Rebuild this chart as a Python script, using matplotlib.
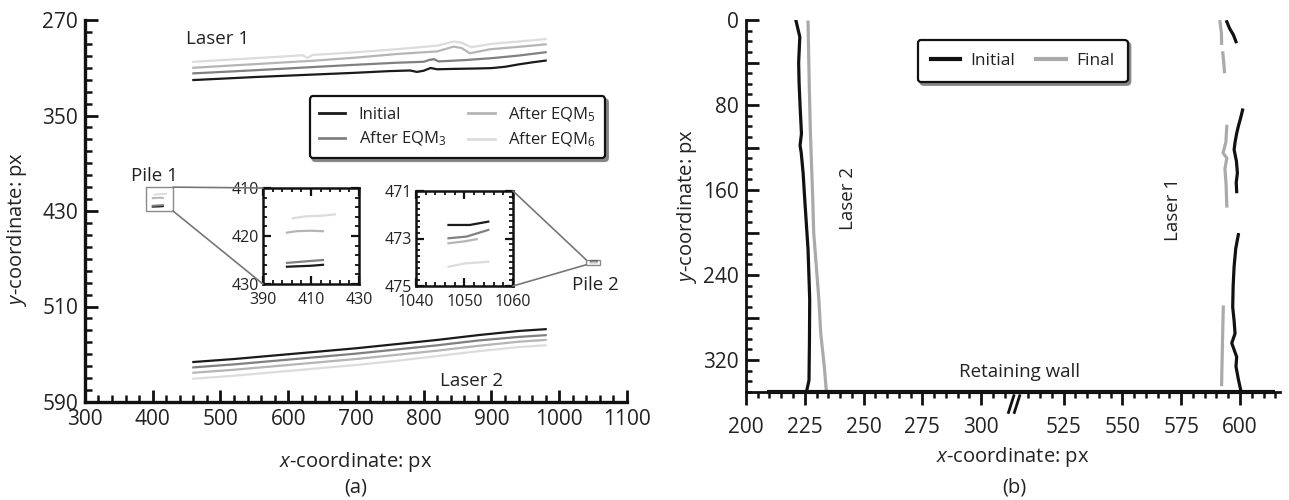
import numpy as np
import matplotlib
matplotlib.use("Agg")
import matplotlib.pyplot as plt
from matplotlib.patches import Rectangle, ConnectionPatch
from matplotlib.lines import Line2D

plt.rcParams['font.family'] = ['Open Sans', 'DejaVu Sans']
plt.rcParams['mathtext.fontset'] = 'custom'
plt.rcParams['mathtext.rm'] = 'Open Sans'
plt.rcParams['mathtext.it'] = 'Open Sans:italic'

# ---------------- data: panel (a) ----------------
series_a = ['Initial', 'After EQM$_3$', 'After EQM$_5$', 'After EQM$_6$']
colors_a = ['#1a1a1a', '#808080', '#b5b5b5', '#dcdcdc']

laser1_init_x = [460, 500, 550, 600, 650, 700, 750, 780, 790, 800, 810, 820, 840, 860, 880, 900, 920, 940, 960, 980]
laser1_init_y = [320.3, 319.2, 317.8, 316.6, 315.4, 314.2, 312.8, 312.3, 313.5, 312.5, 310.2, 311.3, 311.0, 310.8, 310.6, 310.3, 309.2, 307.2, 305.5, 304.0]
laser1_eqm3_x = [460, 520, 580, 640, 700, 760, 800, 808, 815, 822, 860, 900, 940, 980]
laser1_eqm3_y = [314.7, 313.0, 311.2, 309.3, 307.5, 305.8, 305.0, 303.5, 302.8, 304.7, 303.6, 302.0, 299.8, 297.0]
laser1_eqm5_x = [460, 520, 580, 640, 700, 760, 820, 844, 856, 868, 898, 940, 980]
laser1_eqm5_y = [310.0, 308.0, 306.0, 304.0, 301.5, 298.5, 296.3, 292.3, 293.5, 297.9, 294.5, 292.5, 290.4]
laser1_eqm6_x = [460, 520, 580, 622, 628, 636, 700, 760, 820, 844, 856, 870, 900, 940, 980]
laser1_eqm6_y = [305.0, 303.0, 301.0, 299.5, 301.8, 299.3, 297.0, 294.5, 291.5, 288.0, 289.0, 292.8, 290.0, 288.0, 286.0]

laser2_x = [460, 520, 580, 640, 700, 760, 820, 880, 940, 980]
laser2_init_y = [556.5, 554.0, 551.0, 548.0, 545.0, 541.5, 538.0, 534.0, 530.5, 529.0]
laser2_eqm3_y = [561.0, 558.5, 555.5, 552.5, 549.5, 546.0, 542.5, 538.5, 535.5, 534.0]
laser2_eqm5_y = [565.5, 563.0, 560.0, 557.0, 554.0, 550.5, 547.0, 543.0, 539.5, 538.0]
laser2_eqm6_y = [570.5, 568.0, 565.0, 562.0, 559.0, 555.5, 551.5, 547.5, 544.0, 542.5]

pile1_init_x = [400, 405, 410, 415]
pile1_init_y = [426.4, 426.3, 426.2, 426.0]
pile1_eqm3_x = [400, 405, 410, 415]
pile1_eqm3_y = [425.6, 425.4, 425.2, 425.0]
pile1_eqm5_x = [400, 404, 410, 415]
pile1_eqm5_y = [419.3, 419.0, 418.9, 419.0]
pile1_eqm6_x = [402.5, 408, 414, 420]
pile1_eqm6_y = [416.3, 415.9, 415.8, 415.5]

pile2_init_x = [1046.7, 1051.1, 1054.9]
pile2_init_y = [472.43, 472.43, 472.29]
pile2_eqm3_x = [1046.7, 1050.4, 1054.9]
pile2_eqm3_y = [472.99, 472.92, 472.64]
pile2_eqm5_x = [1046.7, 1050.0, 1052.5]
pile2_eqm5_y = [473.20, 473.12, 473.03]
pile2_eqm6_x = [1046.7, 1050.0, 1054.9]
pile2_eqm6_y = [474.19, 474.05, 473.98]

pile1_box = (390, 430, 410, 430)   # x0, x1, y0, y1
pile2_box = (1040, 1060, 471, 475)

xticks_a = [300, 400, 500, 600, 700, 800, 900, 1000, 1100]
yticks_a = [270, 350, 430, 510, 590]

# ---------------- data: panel (b) ----------------
series_b = ['Initial', 'Final']
colors_b = ['#111111', '#aaaaaa']

l2_init_y = [0, 16, 40, 60, 85, 107, 118, 125, 144, 169, 216, 263, 300, 339, 350]
l2_init_x = [221.2, 222.9, 222.4, 222.6, 223.1, 223.6, 223.0, 223.5, 224.3, 225.0, 226.4, 227.1, 227.0, 226.8, 225.7]
l2_final_y = [2, 60, 106, 169, 200, 263, 295, 326, 350]
l2_final_x = [226.4, 226.9, 227.4, 228.4, 228.8, 231.0, 231.8, 233.3, 234.2]

l1_init_segs = [
    ([1.6, 8, 14, 20.4], [594.4, 595.6, 597.2, 598.3]),
    ([84.7, 92, 100, 106.6, 115, 122, 133, 144, 153, 161.5],
     [601.1, 600.3, 599.3, 598.6, 597.9, 597.5, 598.5, 598.9, 598.4, 598.6]),
    ([202, 215, 232, 250, 270, 283, 295, 304, 317, 326, 338, 348],
     [599.3, 598.2, 597.5, 597.1, 596.9, 597.5, 597.9, 596.5, 598.6, 598.3, 599.3, 600.3]),
]
l1_final_segs = [
    ([1.6, 12, 22], [591.5, 592.1, 592.2]),
    ([31, 40, 48.6], [592.7, 593.1, 593.4]),
    ([100, 115, 125, 130, 140, 155, 175], [594.4, 594.0, 592.8, 594.4, 593.6, 594.1, 594.4]),
    ([270, 290, 310, 330, 343], [592.9, 592.7, 592.5, 592.3, 592.2]),
]
wall_x = [209, 615]
wall_y = [350, 350]

xticks_b = [200, 225, 250, 275, 300, 525, 550, 575, 600]
yticks_b = [0, 80, 160, 240, 320]

# ---------------- figure ----------------
fig = plt.figure(figsize=(12.89, 5.0), dpi=100)
TXT = '#222222'
TICK_FS = 15
LAB_FS = 14.5

# ===== panel (a) =====
axA = fig.add_axes([0.0659, 0.196, 0.4205, 0.764])
lw_a = 1.6
for xs, ys, c in [(laser1_eqm6_x, laser1_eqm6_y, colors_a[3]), (laser1_eqm5_x, laser1_eqm5_y, colors_a[2]),
                  (laser1_eqm3_x, laser1_eqm3_y, colors_a[1]), (laser1_init_x, laser1_init_y, colors_a[0])]:
    axA.plot(xs, ys, color=c, lw=lw_a)
for ys, c in [(laser2_eqm6_y, colors_a[3]), (laser2_eqm5_y, colors_a[2]),
              (laser2_eqm3_y, colors_a[1]), (laser2_init_y, colors_a[0])]:
    axA.plot(laser2_x, ys, color=c, lw=lw_a)

pile1 = [(pile1_init_x, pile1_init_y), (pile1_eqm3_x, pile1_eqm3_y), (pile1_eqm5_x, pile1_eqm5_y), (pile1_eqm6_x, pile1_eqm6_y)]
pile2 = [(pile2_init_x, pile2_init_y), (pile2_eqm3_x, pile2_eqm3_y), (pile2_eqm5_x, pile2_eqm5_y), (pile2_eqm6_x, pile2_eqm6_y)]
for (xs, ys), c in zip(pile1, colors_a):
    axA.plot(xs, ys, color=c, lw=1.4)
for (xs, ys), c in zip(pile2, colors_a):
    axA.plot(xs, ys, color=c, lw=1.4)

for (x0, x1, y0, y1) in [pile1_box, pile2_box]:
    axA.add_patch(Rectangle((x0, y0), x1 - x0, y1 - y0, fill=False, ec='#8a8a8a', lw=1.0))

axA.set_xlim(xticks_a[0], xticks_a[-1])
axA.set_ylim(yticks_a[-1], yticks_a[0])
axA.set_xticks(xticks_a)
axA.set_yticks(yticks_a)
axA.set_xticks(np.arange(300, 1101, 20), minor=True)
axA.set_yticks(np.arange(270, 591, 10), minor=True)
for s in ['top', 'right']:
    axA.spines[s].set_visible(False)
for s in ['left', 'bottom']:
    axA.spines[s].set_linewidth(2.4)
    axA.spines[s].set_color('#111111')
axA.tick_params(which='both', direction='in', color='#111111', labelcolor=TXT, labelsize=TICK_FS)
axA.tick_params(which='major', length=9, width=2)
axA.tick_params(which='minor', length=5, width=1.8)
axA.tick_params(axis='x', pad=5)
axA.tick_params(axis='y', pad=5)
axA.set_xlabel('$\\it{x}$-coordinate: px', fontsize=LAB_FS, color=TXT, va='center')
axA.xaxis.set_label_coords(0.5, -0.158)
axA.set_ylabel('$\\it{y}$-coordinate: px', fontsize=LAB_FS, color=TXT, va='center')
axA.yaxis.set_label_coords(-0.125, 0.453)

axA.text(449, 286, 'Laser 1', fontsize=13.5, color=TXT, ha='left', va='center')
axA.text(871, 572.4, 'Laser 2', fontsize=13.5, color=TXT, ha='center', va='center')
axA.text(403, 400.7, 'Pile 1', fontsize=13.5, color=TXT, ha='center', va='center')
axA.text(1052.8, 492, 'Pile 2', fontsize=13.5, color=TXT, ha='center', va='center')

handles_a = [Line2D([], [], color=c, lw=2) for c in colors_a]
legA = axA.legend(handles_a, series_a, ncol=2, loc='center', bbox_to_anchor=(0.687, 0.719),
                  fontsize=12, frameon=True, fancybox=True, shadow={'color': '0.5', 'alpha': 0.9},
                  handlelength=1.6, columnspacing=1.3, labelspacing=0.4, borderpad=0.55,
                  handletextpad=0.8, labelcolor=TXT)
legA.get_frame().set_edgecolor('#111111')
legA.get_frame().set_linewidth(1.6)
legA.get_frame().set_alpha(1)

# insets
def style_inset(ax, xt, yt, xmin_step, ymin_step, xlim, ylim):
    ax.set_xlim(*xlim)
    ax.set_ylim(ylim[1], ylim[0])
    ax.set_xticks(xt)
    ax.set_yticks(yt)
    ax.set_xticks(np.arange(xlim[0], xlim[1] + 1e-9, xmin_step), minor=True)
    ax.set_yticks(np.arange(ylim[0], ylim[1] + 1e-9, ymin_step), minor=True)
    for s in ax.spines.values():
        s.set_linewidth(1.8)
        s.set_color('#111111')
    ax.tick_params(which='both', direction='in', top=True, right=True, color='#111111',
                   labelcolor=TXT, labelsize=11.5)
    ax.tick_params(axis='x', pad=6)
    ax.tick_params(axis='y', pad=3)
    ax.tick_params(which='major', length=6, width=1.6)
    ax.tick_params(which='minor', length=3, width=1.3)

ins1 = fig.add_axes([0.204, 0.432, 0.0745, 0.192])
for (xs, ys), c in zip(pile1, colors_a):
    ins1.plot(xs, ys, color=c, lw=1.6)
style_inset(ins1, [390, 410, 430], [410, 420, 430], 4, 2, (390, 430), (410, 430))

ins2 = fig.add_axes([0.3227, 0.428, 0.0753, 0.19])
for (xs, ys), c in zip(pile2, colors_a):
    ins2.plot(xs, ys, color=c, lw=1.6)
style_inset(ins2, [1040, 1050, 1060], [471, 473, 475], 2, 0.25, (1040, 1060), (471, 475))

for xyA, xyB, ins in [((pile1_box[1], pile1_box[2]), (0, 1), ins1), ((pile1_box[1], pile1_box[3]), (0, 0), ins1),
                      ((pile2_box[0], pile2_box[2]), (1, 1), ins2), ((pile2_box[0], pile2_box[3]), (1, 0), ins2)]:
    cp = ConnectionPatch(xyA=xyA, coordsA=axA.transData, xyB=xyB, coordsB=ins.transAxes,
                         color='#777777', lw=1.2)
    fig.add_artist(cp)

fig.text(0.276, 1 - 488 / 500, '(a)', fontsize=LAB_FS, color=TXT, ha='center', va='center')

# ===== panel (b) =====
def fwd(x):
    x = np.asarray(x, dtype=float)
    return np.where(x <= 315, x, np.where(x >= 505, x - 190, 315.0))

def inv(u):
    u = np.asarray(u, dtype=float)
    return np.where(u <= 315, u, u + 190)

axB = fig.add_axes([0.5787, 0.216, 0.4143, 0.744])
axB.set_xscale('function', functions=(fwd, inv))
lw_b = 2.3
axB.plot(l2_final_x, l2_final_y, color=colors_b[1], lw=lw_b)
axB.plot(l2_init_x, l2_init_y, color=colors_b[0], lw=lw_b)
for ys, xs in l1_final_segs:
    axB.plot(xs, ys, color=colors_b[1], lw=lw_b)
for ys, xs in l1_init_segs:
    axB.plot(xs, ys, color=colors_b[0], lw=lw_b)

axB.set_xlim(200, 617)
axB.set_ylim(350, 0)
axB.set_xticks(xticks_b)
minor_b = [v for v in list(np.arange(205, 311, 5)) + list(np.arange(510, 616, 5)) if v not in xticks_b]
axB.set_xticks(minor_b, minor=True)
axB.set_yticks(np.arange(0, 350, 40))
axB.set_yticklabels([str(v) if v in yticks_b else '' for v in np.arange(0, 350, 40)])
axB.set_yticks(np.arange(0, 351, 10), minor=True)
for s in ['top', 'right']:
    axB.spines[s].set_visible(False)
for s in ['left', 'bottom']:
    axB.spines[s].set_linewidth(2.0)
    axB.spines[s].set_color('#111111')
axB.tick_params(which='both', color='#111111', labelcolor=TXT, labelsize=TICK_FS)
axB.tick_params(axis='x', which='both', direction='out')
axB.tick_params(axis='y', which='both', direction='in', pad=5)
axB.tick_params(which='major', length=9, width=2)
axB.tick_params(which='minor', length=4.5, width=1.8)
axB.tick_params(axis='x', which='major', pad=9)

axB.plot(wall_x, wall_y, color='#111111', lw=3.0, clip_on=False, solid_capstyle='butt', zorder=5)
axB.text(0.513, 0.054, 'Retaining wall', transform=axB.transAxes, fontsize=13.5, color=TXT,
         ha='center', va='center')
axB.text(243.2, 167.5, 'Laser 2', rotation=90, fontsize=13.5, color=TXT, ha='center', va='center')
axB.text(571.6, 178.7, 'Laser 1', rotation=90, fontsize=13.5, color=TXT, ha='center', va='center')

# break marks on x-axis
xb = (fwd(315) - fwd(200)) / (fwd(617) - fwd(200))
for dx in (-0.011, 0.0):
    axB.plot([xb + dx - 0.004, xb + dx + 0.006], [-0.055, -0.01], transform=axB.transAxes,
             color='#111111', lw=2.0, clip_on=False, zorder=6)

axB.set_xlabel('$\\it{x}$-coordinate: px', fontsize=LAB_FS, color=TXT, va='center')
axB.xaxis.set_label_coords(0.5, -0.175)
axB.set_ylabel('$\\it{y}$-coordinate: px', fontsize=LAB_FS, color=TXT, va='center')
axB.yaxis.set_label_coords(-0.11, 0.5)

handles_b = [Line2D([], [], color=c, lw=3) for c in colors_b]
legB = axB.legend(handles_b, series_b, ncol=2, loc='center', bbox_to_anchor=(0.518, 0.89),
                  fontsize=12.5, frameon=True, fancybox=True, shadow={'color': '0.5', 'alpha': 0.9},
                  handlelength=1.7, columnspacing=1.2, borderpad=0.75, handletextpad=0.6,
                  labelcolor=TXT)
legB.get_frame().set_edgecolor('#111111')
legB.get_frame().set_linewidth(1.6)
legB.get_frame().set_alpha(1)

fig.text(0.787, 1 - 488 / 500, '(b)', fontsize=LAB_FS, color=TXT, ha='center', va='center')

fig.savefig('out.png', dpi=100)
